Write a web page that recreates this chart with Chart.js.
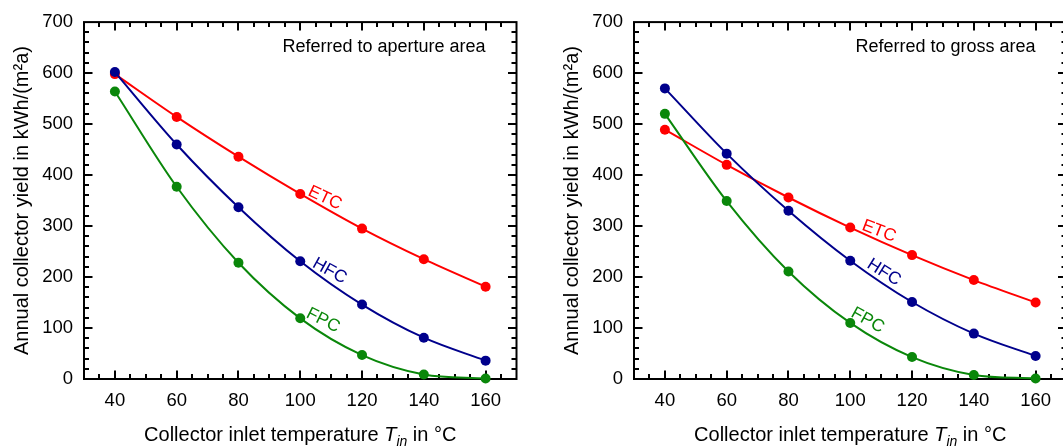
<!DOCTYPE html>
<html>
<head>
<meta charset="utf-8">
<script src="https://cdn.jsdelivr.net/npm/chart.js@4"></script>
<style>
  html, body { margin: 0; padding: 0; background: #fff; overflow: hidden; width: 1063px; height: 446px; }
  canvas { position: absolute; top: 0; }
  #c1 { left: 0px; }
  #c2 { left: 550px; }
</style>
</head>
<body>
<canvas id="c1" width="545" height="446"></canvas>
<canvas id="c2" width="560" height="446"></canvas>
<script>
// ---------- data ----------
const temperatures = [40, 60, 80, 100, 120, 140, 160];
const xTickLabels = [40, 60, 80, 100, 120, 140, 160];
const yTickLabels = [0, 100, 200, 300, 400, 500, 600, 700];

// Referred to aperture area
const apertureETC = [598, 514, 436, 363, 295, 235, 181];
const apertureHFC = [602, 460, 337, 231, 146, 81, 36];
const apertureFPC = [564, 377, 228, 119, 47, 9, 1];

// Referred to gross area
const grossETC = [489, 420, 356, 297, 243, 194, 150];
const grossHFC = [570, 442, 330, 232, 151, 89, 45];
const grossFPC = [520, 349, 211, 110, 43, 8, 1];

const seriesNames = ['ETC', 'HFC', 'FPC'];
const panelTitles = ['Referred to aperture area', 'Referred to gross area'];

// ---------- styles ----------
const COLORS = { ETC: '#ff0000', HFC: '#00008c', FPC: '#0a870a' };
const FONT = '"Liberation Sans", Arial, Helvetica, sans-serif';

function pairs(vals) { return temperatures.map((t, i) => ({ x: t, y: vals[i] })); }

const framePlugin = {
  id: 'frame',
  beforeDatasetsDraw(chart) {
    const { ctx, chartArea: { left, right, top, bottom }, scales: { x, y } } = chart;
    ctx.save();
    ctx.strokeStyle = '#000';
    ctx.lineWidth = 2;
    ctx.lineCap = 'butt';
    ctx.strokeRect(left, top, right - left, bottom - top);
    ctx.beginPath();
    for (let v = x.min + 5; v < x.max; v += 5) {
      const px = Math.round(x.getPixelForValue(v));
      const len = (v % 20 === 0) ? 8.5 : 5;
      ctx.moveTo(px, bottom); ctx.lineTo(px, bottom - len);
      ctx.moveTo(px, top); ctx.lineTo(px, top + len);
    }
    for (let v = y.min + 20; v < y.max; v += 20) {
      const py = Math.round(y.getPixelForValue(v));
      const len = (v % 100 === 0) ? 8.5 : 5;
      ctx.moveTo(left, py); ctx.lineTo(left + len, py);
      ctx.moveTo(right, py); ctx.lineTo(right - len, py);
    }
    ctx.stroke();
    ctx.restore();
  },
  afterDraw(chart, args, opts) {
    const { ctx, chartArea: { left, right, top }, scales: { x, y } } = chart;
    ctx.save();
    // panel note
    ctx.fillStyle = '#000';
    ctx.font = '18px ' + FONT;
    ctx.textAlign = 'right';
    ctx.textBaseline = 'middle';
    ctx.fillText(opts.note, right - 31, 47);
    // curve labels
    ctx.font = '17.5px ' + FONT;
    ctx.textAlign = 'center';
    opts.labels.forEach(l => {
      ctx.save();
      ctx.translate(x.getPixelForValue(l.x), y.getPixelForValue(l.y));
      ctx.rotate(l.angle * Math.PI / 180);
      ctx.fillStyle = COLORS[l.text];
      ctx.fillText(l.text, 0, 0);
      ctx.restore();
    });
    // x title with italic T and subscript
    const parts = [
      { t: 'Collector inlet temperature ', f: '20px ' + FONT, dy: 0 },
      { t: 'T', f: 'italic 20px ' + FONT, dy: 0 },
      { t: 'in', f: 'italic 14px ' + FONT, dy: 5 },
      { t: ' in \u00B0C', f: '20px ' + FONT, dy: 0 }
    ];
    let total = 0;
    parts.forEach(p => { ctx.font = p.f; p.w = ctx.measureText(p.t).width; total += p.w; });
    let cx = (left + right) / 2 - total / 2;
    ctx.textAlign = 'left';
    ctx.textBaseline = 'alphabetic';
    ctx.fillStyle = '#000';
    parts.forEach(p => { ctx.font = p.f; ctx.fillText(p.t, cx, 441 + p.dy); cx += p.w; });
    ctx.restore();
  }
};

function makeChart(id, etc, hfc, fpc, padRight, note, labels) {
  const mk = (name, vals) => ({
    label: name,
    data: pairs(vals),
    borderColor: COLORS[name],
    backgroundColor: COLORS[name],
    pointBackgroundColor: COLORS[name],
    pointBorderColor: COLORS[name],
    borderWidth: 2,
    pointRadius: 5,
    pointBorderWidth: 0,
    cubicInterpolationMode: 'monotone',
    clip: false
  });
  return new Chart(document.getElementById(id), {
    type: 'line',
    data: { datasets: [mk('FPC', fpc), mk('HFC', hfc), mk('ETC', etc)] },
    options: {
      responsive: false,
      animation: false,
      devicePixelRatio: 1,
      layout: { padding: { left: 0, top: 19, right: padRight, bottom: 0 } },
      plugins: {
        legend: { display: false },
        tooltip: { enabled: false },
        frame: { note: note, labels: labels }
      },
      scales: {
        x: {
          type: 'linear', min: 30, max: 170,
          grid: { display: false, drawTicks: false },
          border: { display: false },
          afterBuildTicks: s => { s.ticks = xTickLabels.map(v => ({ value: v })); },
          afterFit: s => { s.height = 67; },
          ticks: { color: '#000', padding: 11, font: { family: FONT, size: 18.5 }, maxRotation: 0, autoSkip: false }
        },
        y: {
          type: 'linear', min: 0, max: 700,
          grid: { display: false, drawTicks: false },
          border: { display: false },
          afterBuildTicks: s => { s.ticks = yTickLabels.map(v => ({ value: v })); },
          afterFit: s => { s.width = 84; },
          ticks: { color: '#000', padding: 11, font: { family: FONT, size: 18.5 } },
          title: { display: true, text: 'Annual collector yield in kWh/(m\u00B2a)', color: '#000', font: { family: FONT, size: 20 }, padding: { top: 10, bottom: 0 } }
        }
      }
    },
    plugins: [framePlugin]
  });
}

makeChart('c1', apertureETC, apertureHFC, apertureFPC, 28.5, panelTitles[0], [
  { text: 'ETC', x: 108, y: 355, angle: 25 },
  { text: 'HFC', x: 109.5, y: 212, angle: 29 },
  { text: 'FPC', x: 107.4, y: 115, angle: 27 }
]);
makeChart('c2', grossETC, grossHFC, grossFPC, 43.5, panelTitles[1], [
  { text: 'ETC', x: 109.3, y: 290, angle: 21 },
  { text: 'HFC', x: 110.9, y: 209, angle: 32 },
  { text: 'FPC', x: 105.6, y: 115, angle: 29 }
]);
</script>
</body>
</html>
